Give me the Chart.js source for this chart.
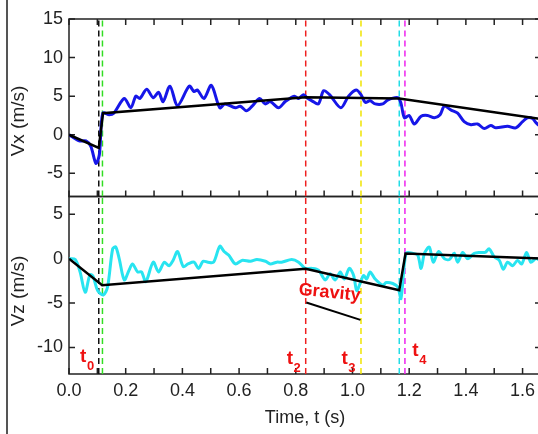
<!DOCTYPE html>
<html>
<head>
<meta charset="utf-8">
<script src="https://cdn.jsdelivr.net/npm/chart.js@4.4.1/dist/chart.umd.min.js"></script>
<style>
  html, body { margin: 0; padding: 0; background: #fff; }
  #wrap { position: relative; width: 538px; height: 434px; overflow: hidden; }
  #chart { position: absolute; left: 0; top: 0; }
  #edge { position: absolute; left: 6px; top: 0; width: 2px; height: 434px; background: #555; }
</style>
</head>
<body>
<div id="wrap">
  <canvas id="chart" width="546" height="434"></canvas>
  <div id="edge"></div>
</div>
<script>
// horizontal velocity, measured
const vxTime = [0, 0.036, 0.06, 0.077, 0.095, 0.107, 0.119, 0.142, 0.158, 0.195,
  0.218, 0.236, 0.25, 0.274, 0.297, 0.316, 0.332, 0.356, 0.383, 0.424,
  0.441, 0.453, 0.476, 0.502, 0.532, 0.55, 0.587, 0.604, 0.626, 0.646,
  0.672, 0.692, 0.71, 0.739, 0.763, 0.795, 0.81, 0.827, 0.839, 0.857,
  0.88, 0.898, 0.919, 0.959, 0.986, 1.013, 1.03, 1.045, 1.062, 1.08,
  1.107, 1.124, 1.16, 1.171, 1.183, 1.2, 1.218, 1.242, 1.265, 1.289,
  1.309, 1.324, 1.348, 1.371, 1.394, 1.418, 1.441, 1.465, 1.488, 1.506,
  1.547, 1.576, 1.6, 1.617, 1.635, 1.649, 1.665];
const vx = [0, -0.8, -0.8, -1.5, -3.7, -2.6, 2.8, 2.6, 2.8, 4.7,
  3.5, 5.0, 4.7, 5.9, 4.8, 5.5, 4.3, 6.3, 3.8, 6.3,
  5.6, 5.8, 4.7, 6.4, 3.5, 4.0, 3.5, 3.7, 3.1, 3.7,
  4.7, 4.0, 4.3, 3.5, 4.3, 5.0, 4.7, 5.2, 4.8, 4.4,
  4.0, 5.7, 5.2, 3.5, 5.0, 5.8, 5.2, 4.2, 4.4, 4.0,
  4.0, 4.5, 4.8, 4.1, 2.2, 2.5, 1.4, 2.4, 2.5, 2.2,
  2.6, 3.7, 3.2, 2.8, 1.7, 1.3, 1.4, 0.8, 1.2, 0.9,
  1.1, 0.9, 1.7, 2.2, 2.1, 1.5, 1.0];

// vertical velocity, measured
const vzTime = [0, 0.022, 0.039, 0.057, 0.074, 0.085, 0.101, 0.121, 0.136, 0.154,
  0.165, 0.177, 0.195, 0.212, 0.224, 0.242, 0.256, 0.271, 0.297, 0.316,
  0.336, 0.353, 0.367, 0.383, 0.403, 0.42, 0.441, 0.457, 0.473, 0.49,
  0.51, 0.532, 0.547, 0.563, 0.587, 0.61, 0.64, 0.663, 0.693, 0.71,
  0.733, 0.75, 0.786, 0.81, 0.833, 0.857, 0.88, 0.904, 0.921, 0.939,
  0.957, 0.971, 0.989, 1.004, 1.015, 1.027, 1.039, 1.05, 1.062, 1.08,
  1.107, 1.119, 1.142, 1.16, 1.171, 1.189, 1.212, 1.23, 1.242, 1.254,
  1.271, 1.285, 1.304, 1.324, 1.342, 1.359, 1.371, 1.389, 1.406, 1.43,
  1.447, 1.468, 1.482, 1.5, 1.518, 1.532, 1.547, 1.565, 1.582, 1.597,
  1.614, 1.629, 1.647, 1.665];
const vz = [0, -0.1, -1.5, -3.8, -1.8, -2.0, -3.6, -4.1, -3.2, 1.1,
  1.3, 0, -2.4, -1.3, -0.6, -1.5, -1.5, -2.6, -0.4, -1.5,
  -0.4, -0.8, -0.2, 0.8, -0.9, -0.6, -0.4, -1.1, -0.3, -0.4,
  -0.4, 1.4, 0.8, 0.4, -0.6, -0.2, -0.3, -0.1, -0.3, -0.6,
  -0.4, -0.4, -0.1, -0.4, -1.1, -1.1, -1.3, -2.4, -1.7, -2.4,
  -1.5, -2.3, -1.1, -1.9, -3.6, -2.8, -1.9, -2.3, -1.5, -2.3,
  -3.0, -2.7, -2.8, -3.2, -4.5, 0.6, 0.6, 0.4, -1.1, 0.6,
  1.3, -0.4, 0.8, 0, -0.1, 0.6, -0.4, 0.7, 0, 0.6,
  0.7, 0.7, 1.1, 0.2, -0.2, -1.2, -0.4, -0.8, -0.2, -0.6,
  0.7, -0.4, 0, -0.3];

// piecewise model fits
const fitVxTime = [0, 0.105, 0.12, 0.835, 1.165, 1.665];
const fitVx = [0, -1.7, 2.8, 4.85, 4.7, 2.05];
const fitVzTime = [0, 0.117, 0.835, 1.165, 1.187, 1.665];
const fitVz = [0, -3.0, -1.15, -3.55, 0.58, 0.0];
const gravityTime = [0.837, 1.028];
const gravityVz = [-4.95, -6.9];

// event markers
const eventTimes = [0.105, 0.118, 0.835, 1.03, 1.165, 1.185];
const eventColors = ['#111111', '#33dd22', '#ee2020', '#f0e400', '#22dde6', '#ee22ee'];

// axes
const xTicks = [0, 0.2, 0.4, 0.6, 0.8, 1.0, 1.2, 1.4, 1.6];
const xMinorTicks = [0, 0.1, 0.2, 0.3, 0.4, 0.5, 0.6, 0.7, 0.8, 0.9, 1.0, 1.1, 1.2, 1.3, 1.4, 1.5, 1.6];
const vxTicks = [-5, 0, 5, 10, 15];
const vzTicks = [-10, -5, 0, 5];

// red labels inside the lower panel (data coords)
const notes = [
  { text: 't', sub: '0', t: 0.039, v: -11.65 },
  { text: 't', sub: '2', t: 0.768, v: -11.85 },
  { text: 't', sub: '3', t: 0.961, v: -11.85 },
  { text: 't', sub: '4', t: 1.211, v: -10.95 }
];

const FONT = "'Liberation Sans', Arial, sans-serif";
const pts = (xs, ys) => xs.map((x, i) => ({ x: x, y: ys[i] }));

const datasets = [];
datasets.push({ data: pts(fitVxTime, fitVx), yAxisID: 'yVx', borderColor: '#000', borderWidth: 2.5, order: 0 });
datasets.push({ data: pts(fitVzTime, fitVz), yAxisID: 'yVz', borderColor: '#000', borderWidth: 2.5, order: 0 });
datasets.push({ data: pts(gravityTime, gravityVz), yAxisID: 'yVz', borderColor: '#000', borderWidth: 2, order: 0 });
datasets.push({ data: pts(vxTime, vx), yAxisID: 'yVx', borderColor: '#1616e8', borderWidth: 3, tension: 0.3, order: 1 });
datasets.push({ data: pts(vzTime, vz), yAxisID: 'yVz', borderColor: '#28e4f0', borderWidth: 3, tension: 0.3, order: 1 });
eventTimes.forEach((t, i) => {
  datasets.push({ data: [{ x: t, y: -8 }, { x: t, y: 15 }], yAxisID: 'yVx',
    borderColor: eventColors[i], borderWidth: 1.5, borderDash: [6, 4], order: 2 });
  datasets.push({ data: [{ x: t, y: -13 }, { x: t, y: 7 }], yAxisID: 'yVz',
    borderColor: eventColors[i], borderWidth: 1.5, borderDash: [6, 4], order: 2 });
});

const framePlugin = {
  id: 'frame',
  beforeDatasetsDraw(chart) {
    const { ctx, chartArea: a, scales } = chart;
    ctx.save();
    ctx.strokeStyle = '#222';
    ctx.lineWidth = 1.5;
    [scales.yVx, scales.yVz].forEach((s, i) => {
      ctx.strokeRect(a.left, s.top, a.right - a.left, s.bottom - s.top);
      ctx.beginPath();
      s.ticks.forEach(tk => {
        const y = s.getPixelForValue(tk.value);
        ctx.moveTo(a.left, y); ctx.lineTo(a.left + 6, y);
        ctx.moveTo(a.right - 6, y); ctx.lineTo(a.right, y);
      });
      xMinorTicks.forEach(v => {
        const x = scales.x.getPixelForValue(v);
        ctx.moveTo(x, s.bottom); ctx.lineTo(x, s.bottom - 6);
        if (i === 0) { ctx.moveTo(x, s.top); ctx.lineTo(x, s.top + 6); }
      });
      ctx.stroke();
    });
    ctx.restore();
  },
  afterDatasetsDraw(chart) {
    const { ctx, scales } = chart;
    const sx = scales.x, sz = scales.yVz;
    ctx.save();
    // y axis titles
    ctx.fillStyle = '#222';
    ctx.font = '19px ' + FONT;
    ctx.textAlign = 'center';
    ctx.textBaseline = 'middle';
    [['Vx (m/s)', 121], ['Vz (m/s)', 291]].forEach(([txt, y]) => {
      ctx.save();
      ctx.translate(19, y);
      ctx.rotate(-Math.PI / 2);
      ctx.fillText(txt, 0, 0);
      ctx.restore();
    });
    // red notes
    ctx.fillStyle = '#ee1111';
    ctx.textAlign = 'left';
    ctx.textBaseline = 'alphabetic';
    notes.forEach(n => {
      const x = sx.getPixelForValue(n.t);
      const y = sz.getPixelForValue(n.v);
      ctx.font = 'bold 19px ' + FONT;
      ctx.fillText(n.text, x, y);
      const w = ctx.measureText(n.text).width;
      ctx.font = 'bold 13px ' + FONT;
      ctx.fillText(n.sub, x + w + 0.5, y + 8);
    });
    ctx.save();
    ctx.translate(sx.getPixelForValue(0.919), sz.getPixelForValue(-3.85));
    ctx.rotate(0.1);
    ctx.font = 'bold 18px ' + FONT;
    ctx.textAlign = 'center';
    ctx.textBaseline = 'middle';
    ctx.fillText('Gravity', 0, 0);
    ctx.restore();
    ctx.restore();
  }
};

const tickFont = { family: FONT, size: 18 };

new Chart(document.getElementById('chart'), {
  type: 'line',
  data: { datasets: datasets },
  options: {
    responsive: false,
    animation: false,
    layout: { padding: { top: 19, right: 5, bottom: 0, left: 0 } },
    elements: { point: { radius: 0 } },
    plugins: { legend: { display: false }, tooltip: { enabled: false } },
    scales: {
      x: {
        type: 'linear',
        min: 0,
        max: 1.665,
        afterBuildTicks: s => { s.ticks = xTicks.map(v => ({ value: v })); },
        afterFit: s => { s.height = 60; },
        ticks: { callback: v => v.toFixed(1), autoSkip: false, maxRotation: 0, padding: 6, font: tickFont, color: '#222' },
        grid: { display: false, drawTicks: false },
        border: { display: false },
        title: { display: true, text: 'Time, t (s)', font: { family: FONT, size: 18 }, color: '#222', padding: { top: 0, bottom: 5 } }
      },
      // left stack is placed in reverse order: the last one defined ends on top
      yVz: {
        type: 'linear',
        position: 'left',
        stack: 'panels',
        stackWeight: 1,
        min: -13,
        max: 7,
        afterBuildTicks: s => { s.ticks = vzTicks.map(v => ({ value: v })); },
        afterFit: s => { s.width = 69; },
        ticks: { padding: 6, font: tickFont, color: '#222' },
        grid: { display: false, drawTicks: false },
        border: { display: false }
      },
      yVx: {
        type: 'linear',
        position: 'left',
        stack: 'panels',
        stackWeight: 1,
        min: -8,
        max: 15,
        afterBuildTicks: s => { s.ticks = vxTicks.map(v => ({ value: v })); },
        afterFit: s => { s.width = 69; },
        ticks: { padding: 6, font: tickFont, color: '#222' },
        grid: { display: false, drawTicks: false },
        border: { display: false }
      }
    }
  },
  plugins: [framePlugin]
});
</script>
</body>
</html>
